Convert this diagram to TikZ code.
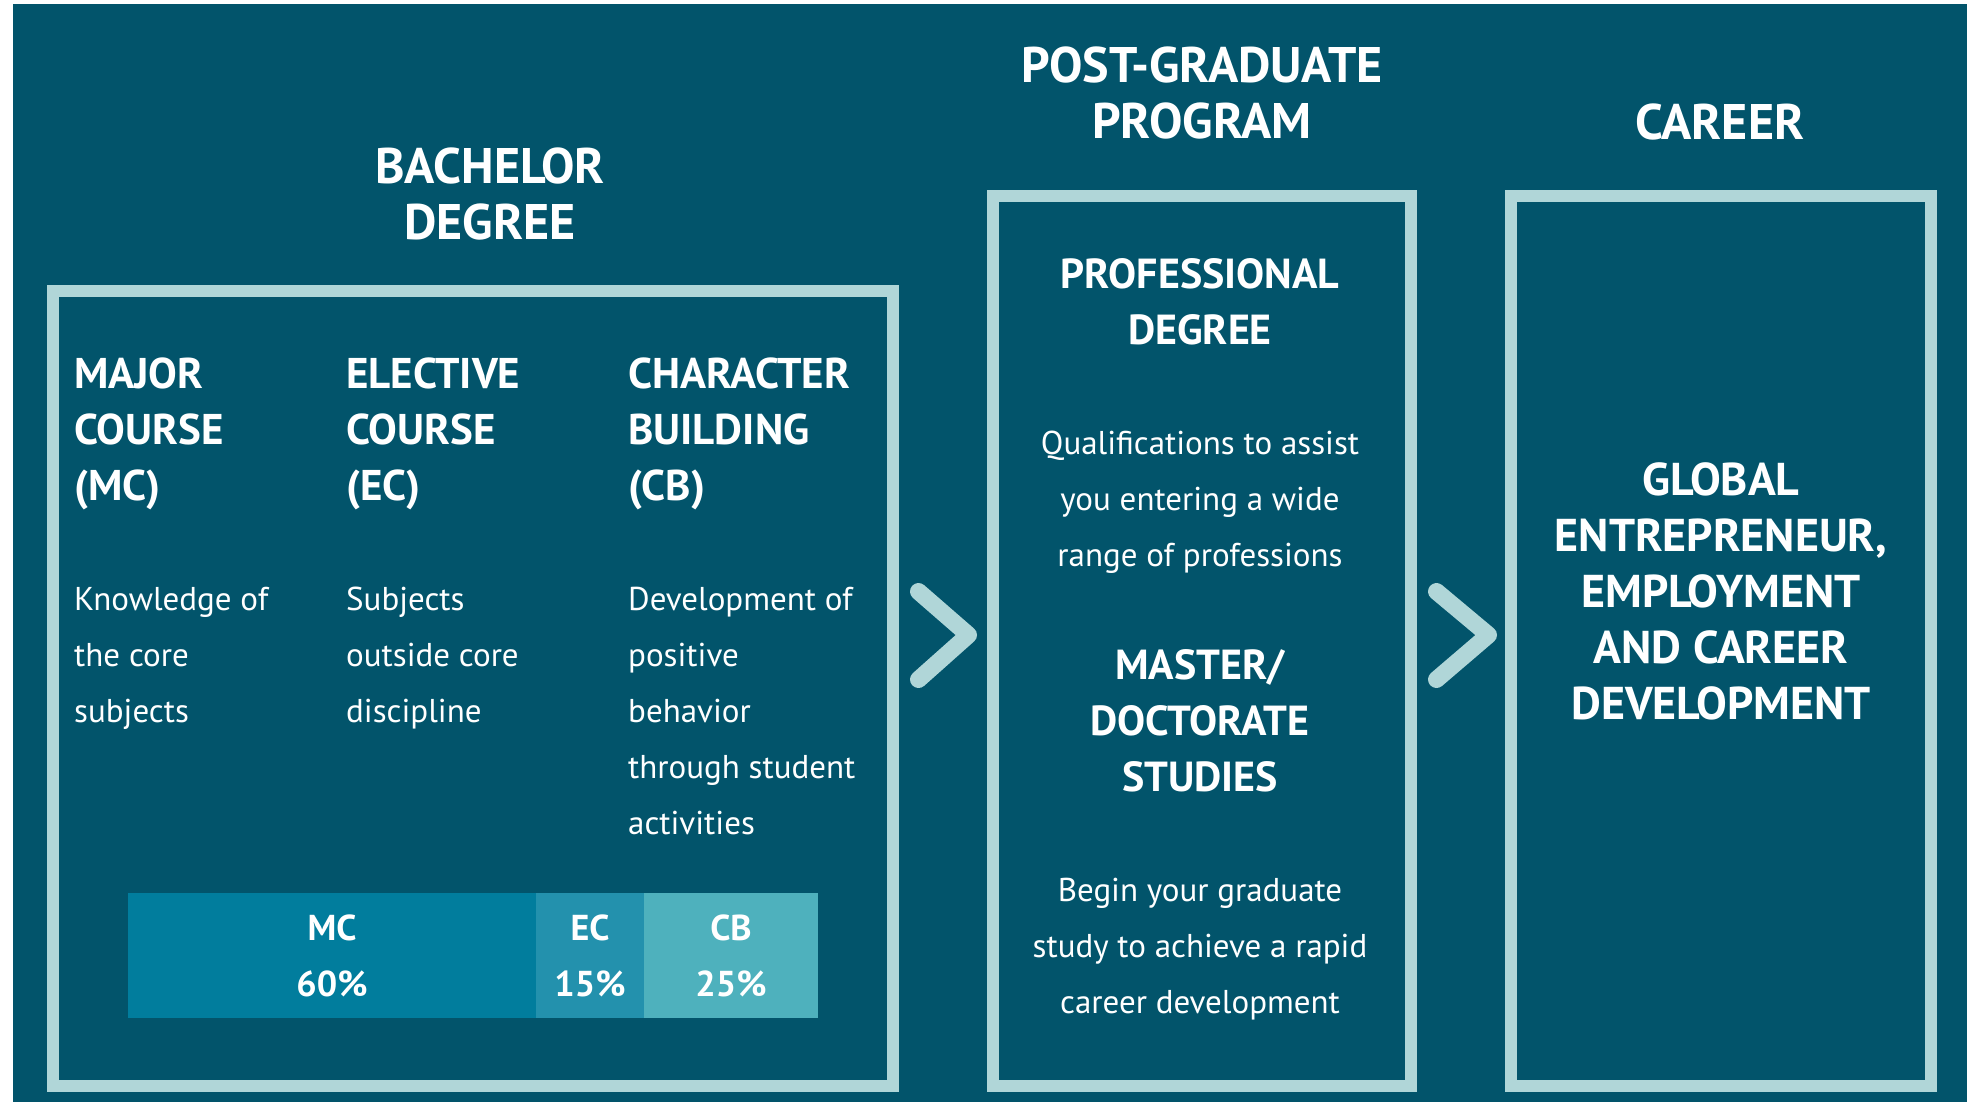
\documentclass[tikz,border=0pt]{standalone}
\usepackage{fontspec}
\setmainfont{PT Sans}
\definecolor{bg}{HTML}{02546B}
\definecolor{framec}{HTML}{B0D6D8}
\definecolor{mcc}{HTML}{017D9D}
\definecolor{ecc}{HTML}{2391AD}
\definecolor{cbc}{HTML}{4EB1BD}
\begin{document}
\begin{tikzpicture}[x=1pt,y=-1pt,
  panel/.style={draw=framec, line width=12pt, rectangle, inner sep=0pt, outer sep=0pt, anchor=north west},
  bigtitle/.style={text=white, font=\bfseries\fontsize{50}{56}\selectfont, align=center, inner sep=0pt, anchor=base},
  colhead/.style={text=white, font=\bfseries\fontsize{43}{56}\selectfont, align=left, inner sep=0pt, anchor=base west},
  body/.style={text=white, font=\fontsize{33}{56}\selectfont, align=left, inner sep=0pt, anchor=base west},
  pghead/.style={text=white, font=\bfseries\fontsize{42}{56}\selectfont, align=center, inner sep=0pt, anchor=base},
  pgbody/.style={text=white, font=\fontsize{33}{56}\selectfont, align=center, inner sep=0pt, anchor=base},
  careertext/.style={text=white, font=\bfseries\fontsize{46}{56}\selectfont, align=center, inner sep=0pt, anchor=base},
  barseg/.style={text=white, font=\bfseries\fontsize{36}{56}\selectfont, align=center, inner sep=0pt, outer sep=0pt, anchor=north west, minimum height=125pt},
  chev/.style={draw=framec, line width=17pt, line cap=round, line join=round}
]
\useasboundingbox (0,0) rectangle (1967,1102);
\fill[bg] (13,4) rectangle (1967,1102);

% panels
\node[panel, minimum width=840.5pt, minimum height=795.3pt] (bach) at (52.5,290.7) {};
\node[panel, minimum width=418.8pt, minimum height=889.5pt] (pg) at (992.5,196.5) {};
\node[panel, minimum width=420pt, minimum height=889.5pt] (car) at (1511,196.5) {};

% titles (anchor base = baseline of last line)
\node[bigtitle] (tbach) at (490,239.5) {BACHELOR\\DEGREE};
\node[bigtitle] (tpg) at (1202,138.5) {POST-GRADUATE\\PROGRAM};
\node[bigtitle] (tcar) at (1720,139.5) {CAREER};

% bachelor columns
\node[colhead] (hmc) at (74,500) {MAJOR\\COURSE\\(MC)};
\node[colhead] (hec) at (346,500) {ELECTIVE\\COURSE\\(EC)};
\node[colhead] (hcb) at (628,500) {CHARACTER\\BUILDING\\(CB)};
\node[body] (bmc) at (74,722) {Knowledge of\\the core\\subjects};
\node[body] (bec) at (346,722) {Subjects\\outside core\\discipline};
\node[body] (bcb) at (628,834) {Development of\\positive\\behavior\\through student\\activities};

% bar
\node[barseg, fill=mcc, minimum width=408pt] (smc) at (128,893) {MC\\60\%};
\node[barseg, fill=ecc, minimum width=108pt] (sec) at (536,893) {EC\\15\%};
\node[barseg, fill=cbc, minimum width=174pt] (scb) at (644,893) {CB\\25\%};

% post-graduate
\node[pghead] (hprof) at (1200,344) {PROFESSIONAL\\DEGREE};
\node[pgbody] (bprof) at (1200,566) {Qualifications to assist\\you entering a wide\\range of professions};
\node[pghead] (hmast) at (1200,791) {MASTER/\\DOCTORATE\\STUDIES};
\node[pgbody] (bmast) at (1200,1013) {Begin your graduate\\study to achieve a rapid\\career development};

% career
\node[careertext] (tglob) at (1721,719) {GLOBAL\\ENTREPRENEUR,\\EMPLOYMENT\\AND CAREER\\DEVELOPMENT};

% chevrons
\coordinate (c1a) at (918.5,591.5);
\coordinate (c1b) at (968.5,635);
\coordinate (c1c) at (918.5,679.5);
\coordinate (c2a) at (1436.5,591.5);
\coordinate (c2b) at (1488.5,635);
\coordinate (c2c) at (1436.5,679.5);
\draw[chev] (c1a) -- (c1b) -- (c1c);
\draw[chev] (c2a) -- (c2b) -- (c2c);
\end{tikzpicture}
\end{document}
